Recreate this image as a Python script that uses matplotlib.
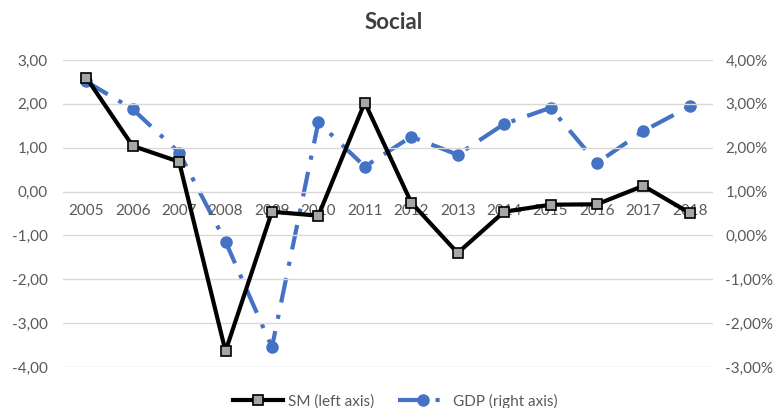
import matplotlib
matplotlib.use("Agg")
import matplotlib.pyplot as plt
from matplotlib.ticker import FuncFormatter, FixedLocator

years = ["2005", "2006", "2007", "2008", "2009", "2010", "2011",
         "2012", "2013", "2014", "2015", "2016", "2017", "2018"]
sm_values = [2.60, 1.04, 0.68, -3.64, -0.46, -0.55, 2.03,
             -0.25, -1.40, -0.46, -0.30, -0.29, 0.13, -0.49]
gdp_values = [3.51, 2.88, 1.89, -0.14, -2.55, 2.58, 1.57,
              2.25, 1.84, 2.54, 2.91, 1.65, 2.38, 2.94]  # percent
left_ticks = [-4, -3, -2, -1, 0, 1, 2, 3]
right_ticks = [-3, -2, -1, 0, 1, 2, 3, 4]

plt.rcParams['font.family'] = ['Lato', 'DejaVu Sans']
txt = '#595959'

fig = plt.figure(figsize=(7.75, 4.08), dpi=100)
ax = fig.add_axes([0.0813, 0.1005, 0.8387, 0.7525])
ax2 = ax.twinx()

x = list(range(len(years)))
ax.set_xlim(-0.5, len(years) - 0.5)
ax.set_ylim(-4, 3)
ax2.set_ylim(-3, 4)

ax.yaxis.set_major_locator(FixedLocator(left_ticks))
ax2.yaxis.set_major_locator(FixedLocator(right_ticks))
ax.yaxis.set_major_formatter(FuncFormatter(lambda v, p: f"{v:.2f}".replace('.', ',')))
ax2.yaxis.set_major_formatter(FuncFormatter(lambda v, p: f"{v:.2f}".replace('.', ',') + '%'))

ax.grid(axis='y', color='#d9d9d9', linewidth=1)
ax.set_axisbelow(True)
for a in (ax, ax2):
    for s in a.spines.values():
        s.set_visible(False)
ax.spines['bottom'].set_position(('data', 0))

ax.set_xticks(x)
ax.set_xticklabels(years)
ax.tick_params(axis='x', length=0, pad=9, labelsize=11, colors=txt)
ax.tick_params(axis='y', length=0, pad=11, labelsize=11, colors=txt)
ax2.tick_params(axis='y', length=0, pad=9, labelsize=11, colors=txt)

l2, = ax2.plot(x, gdp_values, color='#4472c4', linewidth=3,
               dashes=(6, 3, 1, 3), marker='o', markersize=8,
               label='GDP (right axis)', zorder=2)

ax.set_zorder(ax2.get_zorder() + 1)
ax.patch.set_visible(False)
l1, = ax.plot(x, sm_values, color='black', linewidth=3, marker='s',
              markersize=7, markerfacecolor='#a6a6a6', markeredgecolor='black',
              markeredgewidth=1.2, label='SM (left axis)', zorder=3)

fig.suptitle('Social', x=0.508, y=0.97, fontsize=16, fontweight='bold', color='#404040')

leg = fig.legend(handles=[l1, l2], labels=['SM (left axis)', 'GDP (right axis)'],
                 loc='lower center', bbox_to_anchor=(0.51, -0.035), ncol=2,
                 frameon=False, fontsize=11, handlelength=3.3, handletextpad=0.3,
                 columnspacing=1.6)
for t in leg.get_texts():
    t.set_color(txt)

fig.savefig('out.png', dpi=100)
